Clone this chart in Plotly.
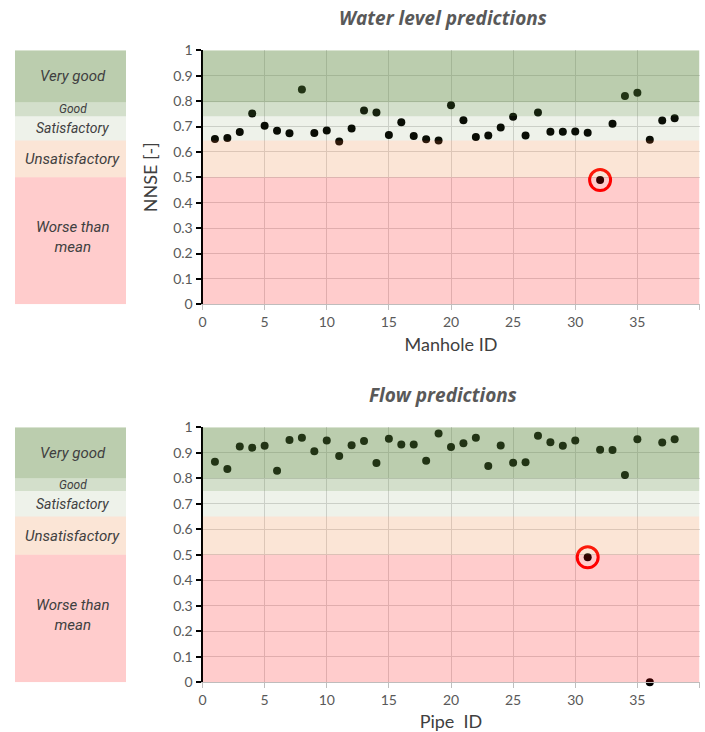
import plotly.graph_objects as go

# ---------------- data ----------------
manhole_ids = list(range(1, 39))
water_nnse = [0.651, 0.655, 0.678, 0.751, 0.703, 0.683, 0.673, 0.846, 0.674, 0.684,
              0.641, 0.692, 0.763, 0.755, 0.667, 0.717, 0.663, 0.650, 0.645, 0.784,
              0.725, 0.659, 0.665, 0.696, 0.738, 0.665, 0.755, 0.679, 0.679, 0.680,
              0.675, 0.489, 0.711, 0.820, 0.833, 0.648, 0.724, 0.732]
water_flag_x = [32]
water_flag_y = [0.489]

pipe_ids = list(range(1, 39))
flow_nnse = [0.865, 0.836, 0.925, 0.920, 0.928, 0.830, 0.950, 0.959, 0.906, 0.948,
             0.887, 0.930, 0.946, 0.860, 0.955, 0.933, 0.933, 0.869, 0.976, 0.923,
             0.937, 0.959, 0.848, 0.929, 0.861, 0.863, 0.967, 0.941, 0.928, 0.948,
             0.490, 0.912, 0.911, 0.813, 0.953, 0.000, 0.940, 0.953]
flow_flag_x = [31]
flow_flag_y = [0.490]

band_names = ["Worse than<br>mean", "Unsatisfactory", "Satisfactory", "Good", "Very good"]
band_bounds_top = [0.0, 0.5, 0.645, 0.74, 0.795, 1.0]
band_bounds_bottom = [0.0, 0.5, 0.65, 0.75, 0.8, 1.0]
band_colors = ["rgba(255,0,0,0.2)", "rgba(237,125,49,0.2)", "rgba(84,130,53,0.1)",
               "rgba(84,130,53,0.26)", "rgba(84,130,53,0.4)"]
band_font_sizes = [15, 15, 14, 12, 15]
band_text_shift = [4, 0, 0, 0, 0]

titles = ["Water level predictions", "Flow predictions"]
x_titles = ["Manhole ID", "Pipe  ID"]

# ---------------- layout geometry ----------------
W, H = 705, 732
def px_x(a, b):
    return [a / W, b / W]
def px_y(top, bottom):
    return [1 - bottom / H, 1 - top / H]

main_x = px_x(202.5, 699.5)
leg_x = px_x(15, 126)
top_y = px_y(50.3, 304.3)
bot_y = px_y(427.3, 682.3)

fig = go.Figure()

fig.add_trace(go.Scatter(x=manhole_ids, y=water_nnse, mode="markers",
                         marker=dict(color="black", size=8), xaxis="x", yaxis="y",
                         showlegend=False, hoverinfo="x+y"))
fig.add_trace(go.Scatter(x=water_flag_x, y=water_flag_y, mode="markers",
                         marker=dict(symbol="circle-open", color="red", size=21,
                                     line=dict(width=3, color="red")),
                         xaxis="x", yaxis="y", showlegend=False))
fig.add_trace(go.Scatter(x=pipe_ids, y=flow_nnse, mode="markers",
                         marker=dict(color="black", size=8), xaxis="x2", yaxis="y2",
                         showlegend=False, hoverinfo="x+y", cliponaxis=False))
fig.add_trace(go.Scatter(x=flow_flag_x, y=flow_flag_y, mode="markers",
                         marker=dict(symbol="circle-open", color="red", size=21,
                                     line=dict(width=3, color="red")),
                         xaxis="x2", yaxis="y2", showlegend=False))
for xa, ya in (("x3", "y3"), ("x4", "y4")):
    fig.add_trace(go.Scatter(x=[0.5], y=[0.5], mode="markers", marker=dict(opacity=0),
                             xaxis=xa, yaxis=ya, showlegend=False, hoverinfo="skip"))

shapes = []
annotations = []
for (xr, yr, lxr, lyr, bounds) in (("x", "y", "x3", "y3", band_bounds_top),
                                    ("x2", "y2", "x4", "y4", band_bounds_bottom)):
    for i, name in enumerate(band_names):
        shapes.append(dict(type="rect", xref=xr, yref=yr, x0=0, x1=40,
                           y0=bounds[i], y1=bounds[i + 1], fillcolor=band_colors[i],
                           line=dict(width=0), layer="above"))
        shapes.append(dict(type="rect", xref=lxr, yref=lyr, x0=0, x1=1,
                           y0=bounds[i], y1=bounds[i + 1], fillcolor=band_colors[i],
                           line=dict(width=0), layer="above"))
        annotations.append(dict(xref=lxr, yref=lyr, x=0.52,
                                y=(bounds[i] + bounds[i + 1]) / 2, text="<i>" + name + "</i>",
                                showarrow=False, yshift=band_text_shift[i],
                                font=dict(family="Liberation Sans Narrow, Roboto, Lato",
                                          size=band_font_sizes[i], color="#404040")))

title_font = dict(family="Open Sans", size=19, color="#595959", weight="bold", style="italic")
annotations.append(dict(xref="paper", yref="paper", x=443 / W, y=1 - 18 / H,
                        text="<b><i>" + titles[0] + "</i></b>", showarrow=False,
                        font=title_font, xanchor="center", yanchor="middle"))
annotations.append(dict(xref="paper", yref="paper", x=443 / W, y=1 - 395 / H,
                        text="<b><i>" + titles[1] + "</i></b>", showarrow=False,
                        font=title_font, xanchor="center", yanchor="middle"))

tick_font = dict(family="Lato", size=14, color="#595959")
ax_title_font = dict(family="Lato", size=18, color="#404040")

def xaxis_cfg(dom, anchor, title):
    return dict(domain=dom, anchor=anchor, range=[0, 40], dtick=5, tick0=0,
                showgrid=True, gridcolor="#D9D9D9", gridwidth=1, zeroline=False,
                showline=True, linecolor="#BFBFBF", linewidth=1,
                ticks="outside", ticklen=5, tickcolor="#BFBFBF", automargin=False,
                tickfont=tick_font, title=dict(text=title, font=ax_title_font, standoff=9),
                fixedrange=True)

def yaxis_cfg(dom, anchor, title):
    return dict(domain=dom, anchor=anchor, range=[0, 1], dtick=0.1, tick0=0,
                showgrid=True, gridcolor="#D9D9D9", gridwidth=1, zeroline=False,
                showline=True, linecolor="black", linewidth=2,
                ticks="outside", ticklen=5, tickwidth=2, tickcolor="black", automargin=False,
                tickfont=tick_font, title=dict(text=title, font=ax_title_font, standoff=11),
                fixedrange=True)

def hidden_axis(dom, anchor):
    return dict(domain=dom, anchor=anchor, range=[0, 1], visible=False, fixedrange=True,
                automargin=False)

fig.update_layout(
    width=W, height=H,
    margin=dict(l=0, r=0, t=0, b=0, pad=0, autoexpand=False),
    paper_bgcolor="white", plot_bgcolor="white",
    xaxis=xaxis_cfg(main_x, "y", x_titles[0]),
    yaxis=yaxis_cfg(top_y, "x", "NNSE [-]"),
    xaxis2=xaxis_cfg(main_x, "y2", x_titles[1]),
    yaxis2=yaxis_cfg(bot_y, "x2", ""),
    xaxis3=hidden_axis(leg_x, "y3"),
    yaxis3=hidden_axis(top_y, "x3"),
    xaxis4=hidden_axis(leg_x, "y4"),
    yaxis4=hidden_axis(bot_y, "x4"),
    shapes=shapes,
    annotations=annotations,
    showlegend=False,
)

fig.write_html("out.html")
